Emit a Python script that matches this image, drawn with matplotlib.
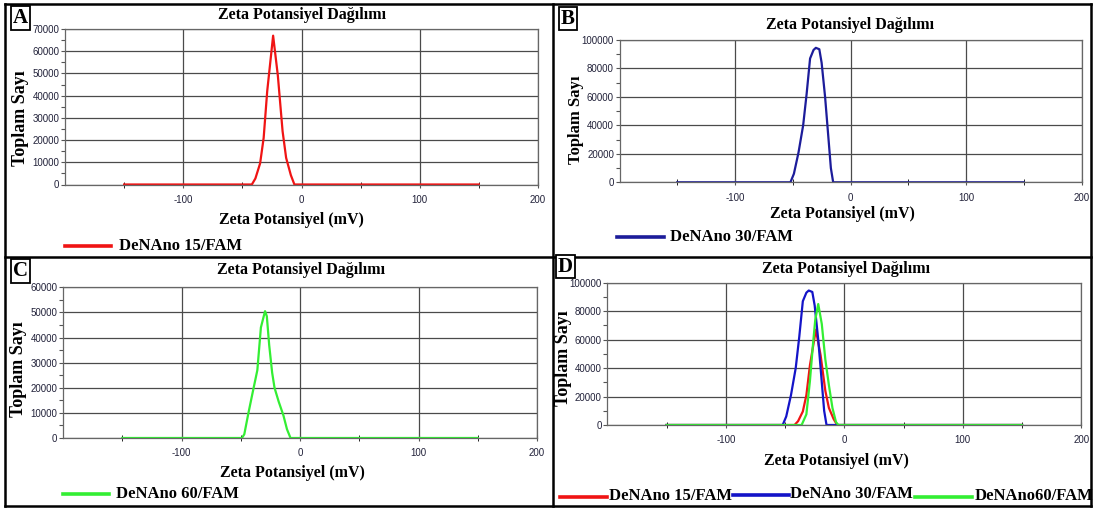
import matplotlib
matplotlib.use("Agg")
import matplotlib.pyplot as plt
from matplotlib.lines import Line2D

W, H = 1093, 508

# ---------------- data ----------------
zeta_15 = [-150, -42, -39, -35, -32, -29, -24, -20, -16, -13, -9, -6, 150]
count_15 = [0, 0, 2700, 9500, 21000, 42000, 67000, 49000, 24000, 12000, 4200, 0, 0]

zeta_30 = [-150, -52, -49, -45, -41, -38, -35, -32, -30, -27, -25, -22, -19, -17, -15, 150]
count_30 = [0, 0, 6000, 21000, 40000, 62000, 87000, 93000, 94500, 93500, 84000, 60000, 30000, 10000, 0, 0]

zeta_60 = [-150, -49, -47, -43.5, -40, -36, -33, -29.5, -28, -26, -23.5, -21.5, -18, -14, -11, -8, 150]
count_60 = [0, 0, 1500, 10000, 18000, 27000, 44000, 50500, 48500, 37000, 26000, 20000, 14500, 9000, 3500, 0, 0]

zeta_60d = [-150, -36, -32, -29, -26.5, -24.5, -22, -19, -16, -13, -10, -7, -5, 150]
count_60d = [0, 0, 7500, 31000, 56000, 74000, 85000, 71000, 46000, 28000, 12000, 2000, 0, 0]

x_ticks = [-100, 0, 100, 200]
x_minor = [-150, -50, 50, 150]

title_txt = "Zeta Potansiyel Dağılımı"
xlabel_txt = "Zeta Potansiyel (mV)"
ylabel_txt = "Toplam Sayı"

SERIF = "Liberation Serif"
SANS = "Liberation Sans"
RED = "#f01414"
BLUE_B = "#1c1c9a"
BLUE_D = "#1414c8"
GREEN = "#33ee33"
GRID = "#4a4a4a"
TICKC = "#22223a"

fig = plt.figure(figsize=(W / 100, H / 100), dpi=100)
fig.patch.set_facecolor("white")


def fx(x):
    return x / W


def fy(y):
    return 1 - y / H


def make_axes(l, t, r, b, ymax, ystep):
    ax = fig.add_axes([fx(l), fy(b), (r - l) / W, (b - t) / H])
    ax.set_xlim(-200, 200)
    ax.set_ylim(0, ymax)
    ax.set_xticks(x_ticks)
    ax.set_xticklabels([str(v) for v in x_ticks])
    ax.set_xticks(x_minor, minor=True)
    yt = list(range(0, ymax + 1, ystep))
    ax.set_yticks(yt)
    ax.set_yticklabels([str(v) for v in yt])
    ax.set_yticks([v + ystep / 2 for v in yt[:-1]], minor=True)
    ax.grid(True, which="major", color=GRID, lw=0.9)
    ax.set_axisbelow(True)
    for s in ax.spines.values():
        s.set_color("#666666")
        s.set_linewidth(0.9)
    ax.tick_params(axis="both", which="major", labelsize=7, colors="#555555",
                   labelcolor=TICKC, length=3, width=0.8)
    ax.tick_params(axis="x", which="both", direction="inout", length=5, pad=5)
    ax.tick_params(axis="y", which="minor", direction="out", length=3, width=0.8, colors="#555555")
    ax.tick_params(axis="y", which="major", direction="out", length=3, pad=1)
    for lab in ax.get_xticklabels() + ax.get_yticklabels():
        lab.set_fontfamily(SANS)
    return ax


def ftext(x, y, s, size, **kw):
    fig.text(fx(x), fy(y), s, fontsize=size, fontfamily=SERIF, fontweight="bold",
             ha=kw.pop("ha", "center"), va=kw.pop("va", "center"), **kw)


def legend_line(x0, x1, y, color):
    fig.add_artist(Line2D([fx(x0), fx(x1)], [fy(y), fy(y)], color=color, lw=2.6,
                          transform=fig.transFigure))


# ---------------- Panel A ----------------
axA = make_axes(65, 29, 538, 184.5, 70000, 10000)
axA.plot(zeta_15, count_15, color=RED, lw=1.6)
ftext(302, 15, title_txt, 11.5)
ftext(291.5, 220, xlabel_txt, 11.5)
ftext(21, 118, ylabel_txt, 13, rotation=90)
legend_line(65, 111, 245.5, RED)
ftext(119, 245.5, "DeNAno 15/FAM", 12, ha="left")

# ---------------- Panel B ----------------
axB = make_axes(619.5, 40, 1081.5, 182.3, 100000, 20000)
axB.plot(zeta_30, count_30, color=BLUE_B, lw=1.6)
ftext(850, 25, title_txt, 11.5)
ftext(842, 214, xlabel_txt, 11.5)
ftext(576, 120, ylabel_txt, 12, rotation=90)
legend_line(617, 664, 237, BLUE_B)
ftext(670, 237, "DeNAno 30/FAM", 12, ha="left")

# ---------------- Panel C ----------------
axC = make_axes(63, 287.3, 537, 438, 60000, 10000)
axC.plot(zeta_60, count_60, color=GREEN, lw=1.6)
ftext(301, 270, title_txt, 11.5)
ftext(292, 473, xlabel_txt, 11.5)
ftext(19, 369, ylabel_txt, 13, rotation=90)
legend_line(63, 109, 494, GREEN)
ftext(116, 494, "DeNAno 60/FAM", 12, ha="left")

# ---------------- Panel D ----------------
axD = make_axes(607.3, 282.7, 1081.3, 425, 100000, 20000)
axD.plot(zeta_15, count_15, color=RED, lw=1.6)
axD.plot(zeta_30, count_30, color=BLUE_D, lw=1.6)
axD.plot(zeta_60d, count_60d, color=GREEN, lw=1.6)
ftext(846, 269, title_txt, 11.5)
ftext(836, 461, xlabel_txt, 11.5)
ftext(564, 358, ylabel_txt, 13, rotation=90)
legend_line(560, 607, 496.5, RED)
ftext(609, 496.5, "DeNAno 15/FAM", 12, ha="left")
legend_line(733, 789, 495, BLUE_D)
ftext(790, 494.5, "DeNAno 30/FAM", 12, ha="left")
legend_line(915, 972, 496.5, GREEN)
ftext(975, 496.5, "DeNAno60/FAM", 12, ha="left")

# ---------------- panel frames ----------------
def fline(x0, y0, x1, y1, lw=1.8):
    fig.add_artist(Line2D([fx(x0), fx(x1)], [fy(y0), fy(y1)], color="black", lw=lw,
                          transform=fig.transFigure))

fline(5, 4, 1091, 4)
fline(5, 506, 1091, 506)
fline(5, 4, 5, 506)
fline(1091, 4, 1091, 506)
fline(553, 4, 553, 506)
fline(5, 256.5, 1091, 256.5)

# panel letters
for letter, cx, cy in [("A", 20.5, 18), ("B", 568, 18.5), ("C", 20.5, 271), ("D", 565.5, 266.5)]:
    fig.text(fx(cx), fy(cy), letter, fontsize=15, fontfamily=SERIF, fontweight="bold",
             ha="center", va="center",
             bbox=dict(boxstyle="square,pad=0.08", fc="white", ec="black", lw=1.3))

fig.savefig("out.png", dpi=100, facecolor="white")
